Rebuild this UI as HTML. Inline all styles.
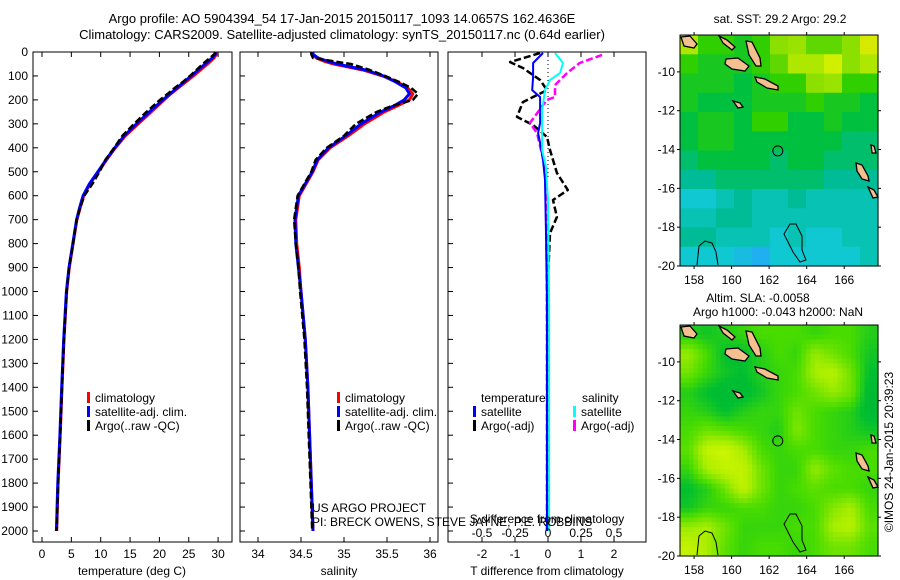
<!DOCTYPE html>
<html><head><meta charset="utf-8">
<style>
html,body{margin:0;padding:0;background:#fff;}
svg{display:block;font-family:"Liberation Sans",Arial,sans-serif;}
text{font-size:12px;fill:#000;}
</style></head>
<body>
<svg id="fig" width="900" height="580" viewBox="0 0 900 580" xmlns="http://www.w3.org/2000/svg">
<text x="342" y="23" text-anchor="middle" style="font-size:13px">Argo profile: AO 5904394_54 17-Jan-2015 20150117_1093 14.0657S 162.4636E</text>
<text x="342" y="39" text-anchor="middle" style="font-size:13px">Climatology: CARS2009. Satellite-adjusted climatology: synTS_20150117.nc (0.64d earlier)</text>
<text x="780" y="23" text-anchor="middle">sat. SST: 29.2 Argo: 29.2</text>
<text x="758" y="302" text-anchor="middle">Altim. SLA: -0.0058</text>
<text x="778" y="316" text-anchor="middle">Argo h1000: -0.043 h2000: NaN</text>
<text transform="translate(893,452) rotate(-90)" text-anchor="middle">©IMOS 24-Jan-2015 20:39:23</text>
<g id="plots"></g>
</svg>
<script>
// ---- profile data ----
const tempDepth=[0,10,25,50,75,100,125,150,175,200,250,300,350,400,450,500,550,600,650,700,800,900,1000,1200,1400,1600,1800,2000];
const tempClim=[29.8,29.7,29.3,28.2,27.0,25.8,24.5,23.2,21.9,20.8,18.6,16.4,14.2,12.5,11.0,9.6,8.2,7.1,6.5,5.95,5.3,4.65,4.2,3.75,3.4,3.1,2.75,2.5];
const tempSat=[29.6,29.5,29.0,27.8,26.6,25.4,24.2,23.0,21.8,20.6,18.3,16.1,14.0,12.4,10.9,9.5,8.1,7.0,6.4,5.9,5.25,4.6,4.15,3.7,3.35,3.05,2.7,2.45];
const tempArgo=[29.6,29.3,28.6,27.4,26.3,25.2,24.0,22.6,21.4,20.1,17.8,15.7,13.7,12.3,10.8,9.8,8.6,7.2,6.5,5.9,5.3,4.6,4.2,3.75,3.4,3.1,2.75,2.5];

const salDepth=[0,10,25,40,50,75,100,125,150,175,200,225,250,300,350,400,450,500,600,700,800,900,1000,1200,1400,1600,1800,2000];
const salClim=[34.62,34.63,34.68,34.78,34.88,35.22,35.45,35.62,35.74,35.80,35.76,35.62,35.47,35.24,35.05,34.84,34.70,34.64,34.48,34.44,34.45,34.48,34.50,34.55,34.58,34.60,34.62,34.64];
const salSat=[34.64,34.64,34.70,34.82,34.92,35.25,35.46,35.60,35.72,35.76,35.70,35.58,35.43,35.20,35.02,34.82,34.69,34.63,34.47,34.43,34.44,34.47,34.50,34.55,34.58,34.60,34.62,34.64];
const salArgo=[34.62,34.62,34.64,34.90,35.08,35.30,35.48,35.64,35.78,35.86,35.80,35.56,35.38,35.14,35.00,34.80,34.67,34.62,34.46,34.42,34.44,34.47,34.49,34.54,34.57,34.59,34.61,34.63];

const dTsatDepth=[4,46,104,159,188,242,296,338,380,451,534,756,1035,2000];
const dTsat=[-0.15,-0.45,-0.45,-0.48,-0.24,-0.24,-0.24,-0.3,-0.24,-0.15,-0.09,-0.06,-0.03,-0.03];
const dTargoDepth=[4,42,67,117,159,209,271,305,355,409,505,576,618,689,756,1035,1500,2000];
const dTargo=[-0.24,-1.15,-0.76,-0.24,-0.03,-0.76,-0.94,-0.45,-0.03,0.06,0.27,0.6,0.15,0.27,0.06,-0.03,0,0];
const dSsatDepth=[4,46,88,117,159,242,409,480,618,1035,2000];
const dSsat=[0.053,0.114,0.091,0.015,-0.023,-0.045,-0.045,-0.015,0,0.008,0.008];
const dSargoDepth=[12,46,88,138,188,200,296,338,480,618,1035,2000];
const dSargo=[0.41,0.24,0.144,0.053,0.053,-0.008,-0.136,-0.083,-0.023,-0.015,-0.008,-0.008];

const depthTicks=[0,100,200,300,400,500,600,700,800,900,1000,1100,1200,1300,1400,1500,1600,1700,1800,1900,2000];
const tempTicks=[0,5,10,15,20,25,30];
const salTicks=[34,34.5,35,35.5,36];
const dTTicks=[-2,-1,0,1,2];
const dSTicks=[-0.5,-0.25,0,0.25,0.5];
const dSTickLabels=["-0.5","-0.25","0","0.25","0.5"];

// ---- map data ----
const mapLonTicks=[158,160,162,164,166];
const mapLatTicks=[-10,-12,-14,-16,-18,-20];
const sstGrid=[
[.75,.6,.6,.55,.6,.7,.72,.65,.65,.7,.82],
[.6,.55,.55,.55,.6,.65,.75,.75,.8,.7,.75],
[.55,.55,.55,.5,.55,.6,.6,.7,.72,.6,.6],
[.55,.5,.5,.5,.55,.55,.55,.6,.55,.55,.5],
[.5,.55,.55,.5,.6,.6,.5,.5,.55,.5,.5],
[.5,.55,.55,.5,.5,.5,.5,.5,.5,.45,.45],
[.45,.5,.5,.5,.5,.45,.5,.5,.45,.45,.45],
[.4,.4,.45,.45,.45,.45,.45,.45,.4,.4,.4],
[.3,.3,.35,.4,.35,.35,.4,.35,.35,.35,.35],
[.35,.35,.4,.4,.35,.35,.35,.35,.35,.35,.35],
[.4,.4,.35,.35,.35,.3,.35,.3,.3,.35,.35],
[.3,.3,.3,.25,.2,.3,.3,.3,.3,.3,.35]];
const slaGrid=[
[.4,.35,.4,.45,.5,.5,.5,.45,.5,.5,.4],
[.7,.5,.3,.3,.4,.5,.45,.7,.6,.5,.35],
[.6,.45,.35,.3,.4,.45,.5,.75,.8,.6,.3],
[.4,.3,.25,.25,.35,.45,.5,.6,.7,.6,.25],
[.45,.4,.3,.4,.45,.45,.6,.5,.45,.4,.25],
[.5,.6,.55,.5,.45,.4,.65,.5,.45,.4,.35],
[.55,.85,.9,.75,.5,.45,.5,.5,.45,.45,.5],
[.45,.75,.85,.85,.6,.45,.45,.7,.55,.5,.5],
[.3,.4,.6,.85,.6,.45,.5,.55,.5,.5,.45],
[.35,.45,.45,.5,.5,.45,.45,.5,.65,.75,.5],
[.7,.75,.6,.45,.45,.45,.5,.5,.75,.8,.55],
[.85,.75,.55,.45,.5,.5,.45,.5,.6,.6,.5]];
const argoLon=162.46, argoLat=-14.07;

const NS="http://www.w3.org/2000/svg";
const root=document.getElementById('plots');
function el(tag,attrs,parent,text){const e=document.createElementNS(NS,tag);for(const k in attrs)e.setAttribute(k,attrs[k]);if(text!==undefined)e.textContent=text;(parent||root).appendChild(e);return e;}

const Y0=52, PXD=0.2395;
const yD=d=>Y0+d*PXD;
const PT=52, PB=542;

function panel(name,x0,x1){
  const g=el('g',{});
  
  
  const r=el('rect',{x:x0,y:PT,width:x1-x0,height:PB-PT,fill:'none',stroke:'#000','stroke-width':1},g);
  
  
  depthTicks.forEach(d=>{el('line',{x1:x0,x2:x0+5,y1:yD(d),y2:yD(d),stroke:'#000'},g);});
  return g;
}
function line(g,name,xs,ds,fx,color,w,dash){
  const pts=xs.map((v,i)=>fx(v).toFixed(1)+','+yD(ds[i]).toFixed(1)).join(' ');
  const p=el('polyline',{points:pts,fill:'none',stroke:color,'stroke-width':w,'stroke-linejoin':'round'},g);
  if(dash)p.setAttribute('stroke-dasharray',dash);
  
  
}
function xticks(g,ticks,fx,labels,yLab,top){
  ticks.forEach((t,i)=>{
    const x=fx(t);
    el('line',{x1:x,x2:x,y1:PB,y2:PB-5,stroke:'#000'},g);
    if(top)el('line',{x1:x,x2:x,y1:PT,y2:PT+5,stroke:'#000'},g);
    const tx=el('text',{x:x,y:yLab,'text-anchor':'middle'},g,labels?labels[i]:String(t));
    
    
  });
}
function legendEntry(g,x,y,color,label){
  el('rect',{x:x,y:y-10,width:3,height:11,fill:color},g);
  const t=el('text',{x:x+8,y:y},g,label);
  
  
}

depthTicks.forEach(d=>{
  const t=el('text',{x:28,y:yD(d)+4,'text-anchor':'end'},root,String(d));
  
  
});

// Panel 1
const fT=v=>42+v*5.87;
const g1=panel('temperature-panel',33,232);
xticks(g1,tempTicks,fT,null,558,true);
line(g1,'temp-climatology',tempClim,tempDepth,fT,'#ff0000',3);
line(g1,'temp-satellite-adj',tempSat,tempDepth,fT,'#0000ff',3);
line(g1,'temp-argo',tempArgo,tempDepth,fT,'#000',2.5,'7,3');
let t1=el('text',{x:132,y:575,'text-anchor':'middle'},g1,'temperature (deg C)');


legendEntry(g1,87,402,'#ff0000','climatology');
legendEntry(g1,87,416,'#0000ff','satellite-adj. clim.');
legendEntry(g1,87,430,'#000','Argo(..raw -QC)');

// Panel 2
const fS=v=>258+(v-34)*86;
const g2=panel('salinity-panel',240,438);
xticks(g2,salTicks,fS,null,558,true);
line(g2,'sal-climatology',salClim,salDepth,fS,'#ff0000',3);
line(g2,'sal-satellite-adj',salSat,salDepth,fS,'#0000ff',3);
line(g2,'sal-argo',salArgo,salDepth,fS,'#000',2.5,'7,3');
let t2=el('text',{x:339,y:575,'text-anchor':'middle'},g2,'salinity');


legendEntry(g2,337,402,'#ff0000','climatology');
legendEntry(g2,337,416,'#0000ff','satellite-adj. clim.');
legendEntry(g2,337,430,'#000','Argo(..raw -QC)');

// Panel 3
const fdT=v=>548+v*33;
const fdS=v=>548+v*132;
const g3=panel('difference-panel',448,646);
xticks(g3,dTTicks,fdT,null,558,false);
dSTicks.forEach(t=>{el('line',{x1:fdS(t),x2:fdS(t),y1:PT,y2:PT+5,stroke:'#000'},g3);});
el('line',{x1:548,x2:548,y1:PT,y2:180,stroke:'#000','stroke-dasharray':'1,3'},g3);
line(g3,'dT-argo',dTargo,dTargoDepth,fdT,'#000',2.5,'7,3');
line(g3,'dS-argo',dSargo,dSargoDepth,fdS,'#ff00ff',2.5,'7,3');
line(g3,'dT-satellite',dTsat,dTsatDepth,fdT,'#0000ff',2);
line(g3,'dS-satellite',dSsat,dSsatDepth,fdS,'#00ffff',2);
let t3=el('text',{x:547,y:575,'text-anchor':'middle'},g3,'T difference from climatology');


let t4=el('text',{x:547,y:523,'text-anchor':'middle'},g3,'S difference from climatology');


dSTicks.forEach((t,i)=>{
  const tx=el('text',{x:fdS(t),y:537,'text-anchor':'middle'},g3,dSTickLabels[i]);
  
  
});
let lt=el('text',{x:481,y:402},g3,'temperature');
let ls=el('text',{x:582,y:402},g3,'salinity');
legendEntry(g3,473,416,'#0000ff','satellite');
legendEntry(g3,473,430,'#000','Argo(-adj)');
legendEntry(g3,573,416,'#00ffff','satellite');
legendEntry(g3,573,430,'#ff00ff','Argo(-adj)');

let pr1=el('text',{x:312,y:512},root,'US ARGO PROJECT');

let pr2=el('text',{x:312,y:526},root,'PI: BRECK OWENS, STEVE JAYNE, P.E. ROBBINS');


// ---- maps ----
function lerpColor(stops,v){
  v=Math.max(stops[0][0],Math.min(stops[stops.length-1][0],v));
  for(let i=0;i<stops.length-1;i++){const a=stops[i],b=stops[i+1];
    if(v<=b[0]){const f=(v-a[0])/(b[0]-a[0]);
      const c=[0,1,2].map(k=>Math.round(a[1][k]+(b[1][k]-a[1][k])*f));return 'rgb('+c.join(',')+')';}}
}
const sstStops=[[0.2,[32,176,240]],[0.3,[16,200,210]],[0.4,[0,188,150]],[0.5,[0,192,64]],[0.6,[48,208,0]],[0.7,[140,224,0]],[0.8,[208,240,0]],[0.9,[240,208,0]],[1,[255,160,0]]];
const slaStops=[[0,[0,168,64]],[0.3,[0,190,50]],[0.5,[72,220,0]],[0.75,[170,238,0]],[1,[230,250,0]]];

function sampleGrid(grid,fr,fc){
  const R=grid.length,C=grid[0].length;
  fr=Math.max(0,Math.min(R-1,fr));fc=Math.max(0,Math.min(C-1,fc));
  const r0=Math.floor(fr),c0=Math.floor(fc),r1=Math.min(R-1,r0+1),c1=Math.min(C-1,c0+1);
  const a=fr-r0,b=fc-c0;
  return grid[r0][c0]*(1-a)*(1-b)+grid[r0][c1]*(1-a)*b+grid[r1][c0]*a*(1-b)+grid[r1][c1]*a*b;
}

const MX0=680,MX1=878,LON0=157.25,LON1=167.8,LAT0=-8.1,LAT1=-20;
function drawMap(name,top,grid,stops,sub){
  const MY0=top, MY1=top+231;
  const lx=lon=>MX0+(lon-LON0)/(LON1-LON0)*(MX1-MX0);
  const ly=lat=>MY0+(lat-LAT0)/(LAT1-LAT0)*(MY1-MY0);
  const g=el('g',{});
  
  
  const rows=grid.length*sub, cols=grid[0].length*sub;
  const cw=(MX1-MX0)/cols, ch=(MY1-MY0)/rows;
  for(let r=0;r<rows;r++)for(let c=0;c<cols;c++){
    const v=sub===1?grid[r][c]:sampleGrid(grid,(r+0.5)/sub-0.5,(c+0.5)/sub-0.5);
    const cell=el('rect',{x:(MX0+c*cw).toFixed(2),y:(MY0+r*ch).toFixed(2),width:(cw+0.6).toFixed(2),height:(ch+0.6).toFixed(2),fill:lerpColor(stops,v)},g);
    
    
  }
  const o=top-35;
  const land='#f4c090';
  const isl=[
    'M681,37 L690,36 L697,44 L694,48 L684,46 Z',
    'M719,36 L727,40 L735,47 L732,50 L723,43 Z',
    'M726,59 L738,58 L749,66 L745,71 L732,69 L725,64 Z',
    'M746,41 L752,42 L760,58 L761,66 L756,66 L749,55 Z',
    'M755,77 L765,79 L778,86 L778,90 L767,88 L757,82 Z',
    'M733,101 L740,103 L743,107 L738,108 Z',
    'M856,163 L862,165 L868,176 L869,181 L862,179 L857,171 Z',
    'M868,187 L874,190 L878,197 L873,198 Z',
    'M871,145 L874,146 L876,153 L872,153 Z'];
  isl.forEach(d=>{const p=el('path',{d:d,fill:land,stroke:'#000','stroke-width':1.3,transform:'translate(0,'+o+')'},g);
    });
  el('path',{d:'M697,265 L699,246 L705,241 L712,243 L716,252 L718,265',fill:'none',stroke:'#000','stroke-width':1,transform:'translate(0,'+o+')'},g);
  el('path',{d:'M790,224 L796,224 L802,236 L802,250 L806,260 L800,262 L793,252 L787,240 L784,234 Z',fill:'none',stroke:'#000','stroke-width':1,transform:'translate(0,'+o+')'},g);
  const c=el('circle',{cx:lx(argoLon),cy:ly(argoLat),r:5,fill:'none',stroke:'#000','stroke-width':1},g);
  
  el('rect',{x:MX0,y:MY0,width:MX1-MX0,height:MY1-MY0,fill:'none',stroke:'#000'},g);
  mapLonTicks.forEach(t=>{const x=lx(t);
    el('line',{x1:x,x2:x,y1:MY0,y2:MY0-3,stroke:'#000'},g);
    el('line',{x1:x,x2:x,y1:MY1,y2:MY1+3,stroke:'#000'},g);
    const tx=el('text',{x:x,y:MY1+18,'text-anchor':'middle'},g,String(t));
    });
  mapLatTicks.forEach(t=>{const y=ly(t);
    el('line',{x1:MX0,x2:MX0-3,y1:y,y2:y,stroke:'#000'},g);
    el('line',{x1:MX1,x2:MX1+3,y1:y,y2:y,stroke:'#000'},g);
    const tx=el('text',{x:MX0-5,y:y+4,'text-anchor':'end'},g,String(t));
    });
}
drawMap('sst-map',35,sstGrid,sstStops,1);
drawMap('sla-map',325,slaGrid,slaStops,4);
</script>
</body></html>
